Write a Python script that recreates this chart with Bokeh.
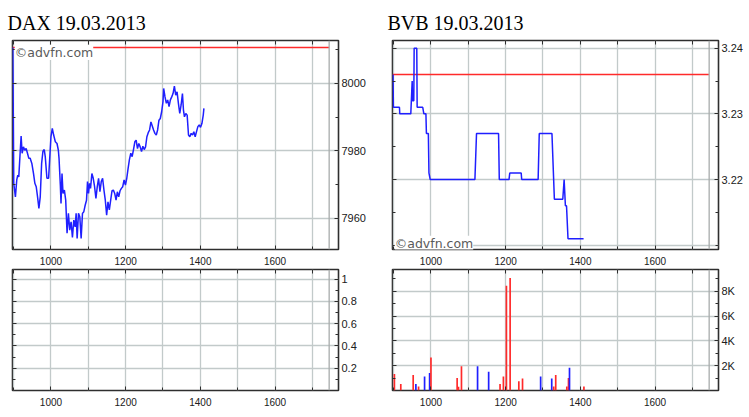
from bokeh.plotting import figure
from bokeh.models import Range1d, LinearAxis, FixedTicker, Span, Label, CustomJSTickFormatter
from bokeh.layouts import column, row
from bokeh.embed import file_html
from bokeh.resources import INLINE

# ---------------- data ----------------
dax_title = "DAX 19.03.2013"
bvb_title = "BVB 19.03.2013"
watermark = "©advfn.com"

time_labels = [1000, 1200, 1400, 1600]
time_grid = [900, 1000, 1100, 1200, 1300, 1400, 1500, 1600, 1700]
session_end = 1745

dax_prev_close = 8010.6
dax_time = [898.0, 900.3, 904.8, 908.4, 911.1, 913.8, 917.4, 920.1, 922.8, 926.3, 929.9, 933.5,
            937.1, 940.7, 944.3, 948.8, 953.3, 956.9, 960.5, 964.1, 967.7, 971.3, 975.0, 978.5,
            982.0, 984.7, 989.2, 993.7, 996.4, 1000.0, 1003.6, 1007.2, 1011.7, 1016.2, 1019.8,
            1021.6, 1025.1, 1026.9, 1029.6, 1032.3, 1035.9, 1039.5, 1043.1, 1046.7, 1050.3,
            1053.9, 1057.5, 1061.1, 1064.7, 1067.4, 1070.1, 1073.7, 1077.2, 1080.8, 1084.4,
            1088.0, 1091.6, 1095.2, 1097.9, 1100.6, 1103.3, 1106.0, 1109.6, 1113.2, 1116.8,
            1120.4, 1124.0, 1127.5, 1131.1, 1134.7, 1138.3, 1141.9, 1145.5, 1149.1, 1152.7,
            1156.3, 1159.9, 1163.5, 1167.1, 1170.7, 1174.3, 1177.8, 1181.4, 1185.0, 1188.6,
            1192.2, 1195.8, 1199.4, 1203.0, 1206.6, 1210.2, 1213.8, 1217.4, 1221.0, 1224.6,
            1228.1, 1231.7, 1235.3, 1238.9, 1242.5, 1246.1, 1249.7, 1253.3, 1256.9, 1260.5,
            1264.1, 1267.7, 1271.3, 1274.8, 1278.4, 1282.0, 1285.6, 1289.2, 1292.8, 1296.4,
            1300.0, 1301.8, 1305.4, 1309.0, 1312.6, 1316.2, 1319.8, 1323.4, 1326.9, 1330.5,
            1334.1, 1337.7, 1341.3, 1344.9, 1348.5, 1352.1, 1354.8, 1357.5, 1361.1, 1364.7,
            1368.3, 1371.9, 1375.4, 1379.0, 1382.6, 1386.2, 1389.8, 1393.4, 1397.0, 1400.6,
            1404.2, 1407.8, 1409.6]
dax_price = [8010.6, 7970.4, 7966.4, 7971.4, 7972.8, 7972.3, 7979.3, 7984.4, 7979.3, 7981.2, 7980.2, 7980.7,
             7979.3, 7977.8, 7977.8, 7976.3, 7973.3, 7970.4, 7969.4, 7966.4, 7963.0, 7966.4, 7976.3, 7979.9,
             7980.4, 7978.3, 7971.9, 7971.9, 7977.3, 7984.2, 7986.7, 7984.7, 7982.7, 7982.2, 7980.2,
             7977.8, 7969.9, 7964.4, 7973.3, 7967.4, 7968.4, 7965.4, 7955.6, 7961.5, 7956.5,
             7959.0, 7954.4, 7959.5, 7957.5, 7961.5, 7954.1, 7961.5, 7960.5, 7954.1, 7961.5,
             7962.0, 7963.9, 7965.4, 7970.9, 7967.4, 7970.4, 7968.9, 7973.3, 7971.9, 7969.4,
             7965.9, 7969.4, 7971.9, 7967.9, 7970.9, 7971.9, 7968.4, 7965.4, 7961.0, 7964.9,
             7962.5, 7965.4, 7968.2, 7968.4, 7967.4, 7965.4, 7967.9, 7966.4, 7968.2, 7968.9,
             7969.4, 7971.4, 7969.9, 7971.9, 7974.8, 7977.5, 7979.3, 7978.3, 7980.4, 7982.7,
             7983.2, 7980.7, 7982.2, 7981.2, 7979.8, 7981.4, 7980.4, 7981.2, 7984.2, 7985.4,
             7986.2, 7988.6, 7987.4, 7986.2, 7985.2, 7984.7, 7986.2, 7989.1, 7989.6, 7991.6,
             7994.6, 7998.5, 7996.0, 7994.1, 7995.1, 7993.1, 7995.1, 7996.0, 7997.0, 7999.2,
             7996.5, 7997.5, 7994.1, 7991.1, 7993.6, 7997.0, 7992.1, 7990.1, 7991.1, 7990.6,
             7984.7, 7984.2, 7985.2, 7984.7, 7985.7, 7984.2, 7985.7, 7987.2, 7987.7, 7987.0,
             7988.1, 7990.6, 7992.6]
dax_price_labels = [7960, 7980, 8000]
dax_price_minor = [7960, 7970, 7980, 7990, 8000, 8010]
dax_vol_labels = [0.2, 0.4, 0.6, 0.8, 1]
dax_vol_minor = [0.1, 0.2, 0.3, 0.4, 0.5, 0.6, 0.7, 0.8, 0.9, 1.0]

bvb_prev_close = 3.236
bvb_time = [898.5, 899.4, 915.6, 916.5, 946.0, 949.7, 950.6, 954.0, 955.0, 962.0, 963.0, 978.0,
            981.0, 986.5, 987.8, 993.0, 994.6, 998.0, 1117.7, 1122.0, 1181.0, 1183.0, 1209.0,
            1211.0, 1241.6, 1243.0, 1287.0, 1290.0, 1324.0, 1330.5, 1353.0, 1356.6, 1360.0,
            1363.0, 1367.0, 1408.7]
bvb_price = [3.236, 3.231, 3.231, 3.230, 3.230, 3.235, 3.232, 3.232, 3.240, 3.240, 3.231, 3.231,
             3.230, 3.230, 3.227, 3.227, 3.221, 3.220, 3.220, 3.227, 3.227, 3.220, 3.220,
             3.221, 3.221, 3.220, 3.220, 3.227, 3.227, 3.217, 3.217, 3.220, 3.216,
             3.216, 3.211, 3.211]
bvb_price_labels = [3.22, 3.23, 3.24]
bvb_price_grid = [3.21, 3.22, 3.23, 3.24]
bvb_price_minor = [3.21, 3.215, 3.22, 3.225, 3.23, 3.235, 3.24]

bvb_vol_time = [902.1, 919.2, 952.4, 959.6, 966.8, 982.9, 996.4, 1000.0, 1070.1, 1073.7, 1081.7,
                1124.8, 1154.5, 1185.0, 1194.0, 1202.1, 1212.0, 1235.3, 1245.2, 1293.7, 1323.4,
                1328.7, 1334.1, 1363.8, 1368.3, 1371.0, 1409.6]
bvb_vol = [1333, 533, 1253, 533, 320, 1120, 1413, 2667, 1013, 300, 1947,
           1947, 1520, 533, 1120, 8453, 9067, 747, 960, 1120, 960,
           320, 1253, 320, 1013, 1840, 320]
bvb_vol_side = ["r", "r", "r", "b", "r", "b", "b", "r", "r", "r", "r",
                "b", "b", "r", "r", "r", "r", "r", "r", "b", "b",
                "r", "r", "r", "r", "b", "r"]
bvb_vol_labels = [2000, 4000, 6000, 8000]
bvb_vol_minor = [1000, 2000, 3000, 4000, 5000, 6000, 7000, 8000, 9000]

# ---------------- style ----------------
X0, X1 = 897, 1770
GRID = "#c2caca"
FRAME = "#2e2e2e"
BLUE = "#1f1fff"
RED = "#ff2a2a"
AX_FONT = "Liberation Sans"


def panel(y0, y1, ylab, yminor, ygrid, width, height, top, bottom, left, right, title=None):
    p = figure(width=width, height=height, x_range=Range1d(X0, X1), y_range=Range1d(y0, y1),
               output_backend="svg", toolbar_location=None, y_axis_location="right",
               min_border_left=left, min_border_right=right, min_border_top=top,
               min_border_bottom=bottom, title=title, background_fill_color="white",
               border_fill_color="white", outline_line_color=FRAME, outline_line_width=1.6)
    if title is not None:
        p.title.text_font = "Liberation Serif"
        p.title.text_font_size = "20px"
        p.title.text_font_style = "normal"
        p.title.text_color = "black"
        p.title.offset = -5
        p.title.standoff = 13
    xa = p.xaxis[0]
    xa.ticker = FixedTicker(ticks=time_labels, minor_ticks=time_grid)
    ya = p.yaxis[0]
    ya.ticker = FixedTicker(ticks=ylab, minor_ticks=yminor)
    for ax in (xa, ya):
        ax.axis_line_color = None
        ax.major_tick_in = 4
        ax.major_tick_out = 0
        ax.minor_tick_in = 3
        ax.minor_tick_out = 0
        ax.major_tick_line_color = FRAME
        ax.minor_tick_line_color = FRAME
        ax.major_label_text_font = AX_FONT
        ax.major_label_text_color = "#202020"
    xa.major_label_text_font_size = "10px"
    xa.major_label_standoff = 7
    ya.major_label_text_font_size = "11px"
    ya.major_label_standoff = 3
    # tick-only axes on the other two frame sides (labels not drawn)
    xt = LinearAxis(ticker=FixedTicker(ticks=time_grid))
    yl = LinearAxis(ticker=FixedTicker(ticks=ylab, minor_ticks=yminor))
    for ax in (xt, yl):
        ax.axis_line_color = None
        ax.major_tick_in = 4
        ax.major_tick_out = 0
        ax.minor_tick_in = 3
        ax.minor_tick_out = 0
        ax.major_tick_line_color = FRAME
        ax.minor_tick_line_color = FRAME
        ax.major_label_text_font_size = "1px"
        ax.major_label_text_color = None
        ax.major_label_standoff = 0
    p.add_layout(xt, "above")
    p.add_layout(yl, "left")
    p.xgrid[0].ticker = FixedTicker(ticks=time_grid)
    p.ygrid[0].ticker = FixedTicker(ticks=ygrid)
    for g in (p.xgrid[0], p.ygrid[0]):
        g.grid_line_color = GRID
        g.grid_line_width = 1.3
    p.add_layout(Span(location=session_end, dimension="height", line_color="#a8acac", line_width=1.3))
    return p, ya


# DAX price
p1, _ = panel(7950.8, 8012.7, dax_price_labels, dax_price_minor, dax_price_labels,
              378, 268, 40, 19, 12, 40, dax_title)
p1.line([X0, session_end], [dax_prev_close, dax_prev_close], line_color=RED, line_width=1.5)
p1.line(dax_time, dax_price, line_color=BLUE, line_width=1.5)
p1.add_layout(Label(x=903, y=8011.4, text=watermark, text_font="DejaVu Sans", text_font_size="12.5px",
                    text_color="#5a5a5a", text_baseline="top", background_fill_color="white"))

# BVB price
p2, _ = panel(3.20935, 3.24117, bvb_price_labels, bvb_price_minor, bvb_price_grid,
              370, 268, 40, 19, 14, 30, bvb_title)
p2.line([X0, session_end], [bvb_prev_close, bvb_prev_close], line_color=RED, line_width=1.5)
p2.line(bvb_time, bvb_price, line_color=BLUE, line_width=1.5)
p2.add_layout(Label(x=903, y=3.2103, text=watermark, text_font="DejaVu Sans", text_font_size="12.5px",
                    text_color="#5a5a5a", text_baseline="alphabetic", background_fill_color="white"))

# DAX volume (empty)
p3, ya3 = panel(0, 1.086, dax_vol_labels, dax_vol_minor, dax_vol_labels, 378, 141, 1, 19, 12, 40)
ya3.formatter = CustomJSTickFormatter(code="return tick >= 1 ? '1' : tick.toFixed(1);")

# BVB volume
p4, ya4 = panel(0, 9760, bvb_vol_labels, bvb_vol_minor, bvb_vol_labels, 370, 141, 1, 19, 14, 30)
ya4.formatter = CustomJSTickFormatter(code="return (tick / 1000).toFixed(0) + 'K';")
vol_colors = [RED if s == "r" else BLUE for s in bvb_vol_side]
p4.vbar(x=bvb_vol_time, top=bvb_vol, bottom=0, width=4.5, fill_color=vol_colors, line_color=None)

layout = column(row(p1, p2), row(p3, p4))
open("out.html", "w").write(file_html(layout, INLINE))
